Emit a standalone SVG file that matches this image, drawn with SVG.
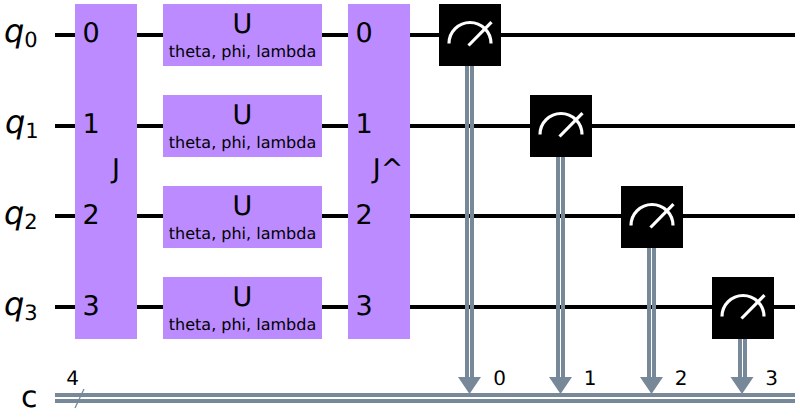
<svg xmlns="http://www.w3.org/2000/svg" width="800" height="419" viewBox="0 0 800 419">
<style>
text{font-family:"DejaVu Sans",sans-serif;fill:#000;text-rendering:geometricPrecision}
.w{stroke:#000;stroke-width:4;fill:none}
.c{stroke:#778899;stroke-width:4;fill:none}
.box{fill:#bb8bff}
.m{fill:#000}
.g{stroke:#fff;stroke-width:3.200;fill:none}
.lab{font-size:32px;font-style:italic}
.sub{font-size:21px}
.big{font-size:27px;text-anchor:middle}
.par{font-size:16px;text-anchor:middle}
.idx{font-size:20px;text-anchor:middle}
.num{font-size:27px}
</style>
<defs>
<g id="gauge"><rect class="m" x="-31" y="-31" width="62" height="62"/><path class="g" d="M-21 8.500A21 21 0 0 1 21 8.500"/><path class="g" d="M-1.500 10.500L21.500 -12.800"/></g>
</defs>
<g id="labels">
<text class="lab" x="4" y="42">q<tspan class="sub" dy="5" font-style="normal">0</tspan></text>
<text class="lab" x="5" y="133">q<tspan class="sub" dy="5" font-style="normal">1</tspan></text>
<text class="lab" x="4" y="224">q<tspan class="sub" dy="5" font-style="normal">2</tspan></text>
<text class="lab" x="4" y="315">q<tspan class="sub" dy="5" font-style="normal">3</tspan></text>
<text x="21" y="407" style="font-size:30px">c</text>
</g>
<g id="connectors">
<path class="w" d="M55 35H795M55 126H795M55 216H795M55 307H795"/>
<path class="c" d="M55 395H795M55 401H795"/>
<path d="M75 408L84 389" stroke="#778899" stroke-width="1.300" fill="none"/>
<path class="c" d="M467 66V380M472 66V380M558 157V380M563 157V380M649 248V380M654 248V380M740 339V380M745 339V380"/>
<path fill="#778899" d="M458 377H481L469.500 394ZM549 377H572L560.500 394ZM640 377H663L651.500 394ZM730.500 377H753.500L742 394Z"/>
</g>
<g id="J"><rect class="box" x="75" y="4" width="62" height="335"/>
<text class="num" x="82.500" y="42">0</text><text class="num" x="82.500" y="133">1</text><text class="num" x="82.500" y="224">2</text><text class="num" x="82.500" y="315">3</text>
<text class="big" x="116" y="178">J</text></g>
<g id="U0"><rect class="box" x="163" y="4" width="159" height="62"/><text class="big" x="242.500" y="33">U</text><text class="par" x="242.500" y="57">theta, phi, lambda</text></g>
<g id="U1"><rect class="box" x="163" y="95" width="159" height="62"/><text class="big" x="242.500" y="124">U</text><text class="par" x="242.500" y="148">theta, phi, lambda</text></g>
<g id="U2"><rect class="box" x="163" y="186" width="159" height="62"/><text class="big" x="242.500" y="215">U</text><text class="par" x="242.500" y="239">theta, phi, lambda</text></g>
<g id="U3"><rect class="box" x="163" y="277" width="159" height="62"/><text class="big" x="242.500" y="306">U</text><text class="par" x="242.500" y="330">theta, phi, lambda</text></g>
<g id="Jdg"><rect class="box" x="348" y="4" width="62" height="335"/>
<text class="num" x="355.500" y="42">0</text><text class="num" x="355.500" y="133">1</text><text class="num" x="355.500" y="224">2</text><text class="num" x="355.500" y="315">3</text>
<text class="big" x="388" y="178">J^</text></g>
<g id="M0"><use href="#gauge" x="470" y="35"/></g>
<g id="M1"><use href="#gauge" x="561" y="126"/></g>
<g id="M2"><use href="#gauge" x="652" y="217"/></g>
<g id="M3"><use href="#gauge" x="743" y="308"/></g>
<g id="creg-labels">
<text class="idx" x="72.500" y="385">4</text>
<text class="idx" x="499.500" y="385">0</text>
<text class="idx" x="590" y="385">1</text>
<text class="idx" x="681" y="385">2</text>
<text class="idx" x="771.500" y="385">3</text>
</g>
</svg>
